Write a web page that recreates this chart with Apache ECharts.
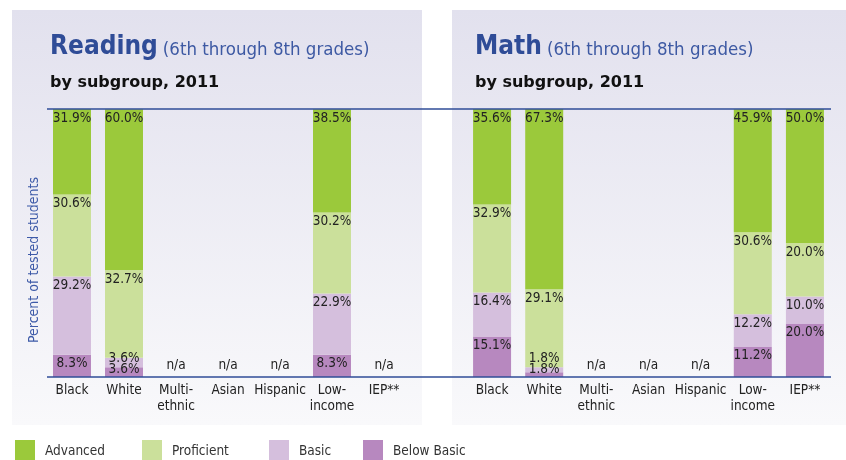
<!DOCTYPE html>
<html>
<head>
<meta charset="utf-8">
<script src="https://cdn.jsdelivr.net/npm/echarts@6/dist/echarts.min.js"></script>
<style>
  html, body { margin: 0; padding: 0; background: #fff; }
  #chart { width: 846px; height: 460px; }
</style>
</head>
<body>
<div id="chart"></div>
<script>
const categories = ['Black', 'White', 'Multi-\nethnic', 'Asian', 'Hispanic', 'Low-\nincome', 'IEP**']
const levels = ['Advanced', 'Proficient', 'Basic', 'Below Basic']

const readingBelowBasic = [8.3, 3.6, null, null, null, 8.3, null]
const readingBasic = [29.2, 3.6, null, null, null, 22.9, null]
const readingProficient = [30.6, 32.7, null, null, null, 30.2, null]
const readingAdvanced = [31.9, 60.0, null, null, null, 38.5, null]

const mathBelowBasic = [15.1, 1.8, null, null, null, 11.2, 20.0]
const mathBasic = [16.4, 1.8, null, null, null, 12.2, 10.0]
const mathProficient = [32.9, 29.1, null, null, null, 30.6, 20.0]
const mathAdvanced = [35.6, 67.3, null, null, null, 45.9, 50.0]

const colors = {
  'Advanced': '#9bc93b',
  'Proficient': '#cbe09b',
  'Basic': '#d5bfdd',
  'Below Basic': '#b788bf'
}

const FONT = '"DejaVu Sans Condensed", "DejaVu Sans", sans-serif'
const BLUE = '#2f4c97'
const PLOT_TOP = 109
const PLOT_H = 268
const PX = PLOT_H / 100

const chart = echarts.init(document.getElementById('chart'))

const pct = p => p.value == null ? '' : p.value.toFixed(1) + '%'

function buildSeries(idx, below, basic, prof, adv) {
  const stack = 's' + idx
  const base = (name, data) => ({
    name,
    type: 'bar',
    stack,
    xAxisIndex: idx,
    yAxisIndex: idx,
    barWidth: 38,
    itemStyle: { color: colors[name] },
    label: {
      show: true,
      position: 'insideTop',
      distance: 2,
      color: '#222',
      fontSize: 13.5,
      fontFamily: FONT,
      formatter: pct
    },
    data
  })
  // tiny segments: stack their labels at the foot of the bar
  const belowData = below.map(v => v != null && v < 5
    ? { value: v, label: { position: 'insideBottom', distance: 1 } } : v)
  const basicData = basic.map((v, i) => below[i] != null && below[i] < 5
    ? { value: v, label: { position: 'insideBottom', distance: 0, offset: [0, -12 + below[i] * PX] } } : v)
  const naData = adv.map(v => v == null ? 0 : null)
  return [
    base('Below Basic', belowData),
    base('Basic', basicData),
    base('Proficient', prof),
    base('Advanced', adv),
    {
      name: 'n/a',
      type: 'bar',
      stack,
      xAxisIndex: idx,
      yAxisIndex: idx,
      barWidth: 38,
      itemStyle: { color: 'transparent' },
      label: {
        show: true,
        position: 'top',
        distance: 5,
        color: '#222',
        fontSize: 13.5,
        fontFamily: FONT,
        formatter: 'n/a'
      },
      data: naData
    }
  ]
}

const xAxisBase = idx => ({
  type: 'category',
  gridIndex: idx,
  data: categories,
  axisLine: { show: false },
  axisTick: { show: false },
  axisLabel: {
    interval: 0,
    margin: 5,
    color: '#222',
    fontSize: 13.5,
    lineHeight: 16,
    fontFamily: FONT
  }
})

const yAxisBase = idx => ({
  type: 'value',
  gridIndex: idx,
  min: 0,
  max: 100,
  axisLine: { show: false },
  axisTick: { show: false },
  axisLabel: { show: false },
  splitLine: { show: false }
})

const titleRich = {
  a: { fontSize: 26, fontWeight: 'bold', color: BLUE, fontFamily: FONT },
  b: { fontSize: 18.5, fontWeight: 'normal', color: '#3d59a3', fontFamily: FONT, padding: [6, 0, 0, 0] }
}

const subStyle = { fontSize: 16, fontWeight: 'bold', color: '#111', fontFamily: '"DejaVu Sans", sans-serif' }

const legendItem = (name, left) => ({
  data: [{ name, icon: 'rect' }],
  left: left - 5,
  top: 435,
  itemWidth: 20,
  itemHeight: 22,
  selectedMode: false,
  textStyle: { fontSize: 13.5, color: '#333', fontFamily: FONT, padding: [0, 0, 0, 5] }
})

const panelFill = {
  type: 'linear', x: 0, y: 0, x2: 0, y2: 1,
  colorStops: [{ offset: 0, color: '#e2e1ee' }, { offset: 1, color: '#f9f9fb' }]
}

const option = {
  backgroundColor: '#fff',
  animation: false,
  graphic: [
    { type: 'rect', z: -10, shape: { x: 12, y: 10, width: 410, height: 415 }, style: { fill: panelFill } },
    { type: 'rect', z: -10, shape: { x: 452, y: 10, width: 400, height: 415 }, style: { fill: panelFill } },
    { type: 'line', z: 10, shape: { x1: 47, y1: PLOT_TOP, x2: 831, y2: PLOT_TOP }, style: { stroke: BLUE, lineWidth: 1.5 } },
    { type: 'line', z: 10, shape: { x1: 47, y1: PLOT_TOP + PLOT_H, x2: 831, y2: PLOT_TOP + PLOT_H }, style: { stroke: BLUE, lineWidth: 1.5 } }
  ],
  title: [
    { left: 45, top: 29, text: '{a|Reading} {b|(6th through 8th grades)}', textStyle: { rich: titleRich } },
    { left: 45, top: 70, text: 'by subgroup, 2011', textStyle: subStyle },
    { left: 470, top: 29, text: '{a|Math} {b|(6th through 8th grades)}', textStyle: { rich: titleRich } },
    { left: 470, top: 70, text: 'by subgroup, 2011', textStyle: subStyle }
  ],
  legend: [
    legendItem('Advanced', 15),
    legendItem('Proficient', 142),
    legendItem('Basic', 269),
    legendItem('Below Basic', 363)
  ],
  grid: [
    { left: 46, width: 364, top: PLOT_TOP, height: PLOT_H },
    { left: 466, width: 365, top: PLOT_TOP, height: PLOT_H }
  ],
  xAxis: [xAxisBase(0), xAxisBase(1)],
  yAxis: [
    Object.assign(yAxisBase(0), {
      name: 'Percent of tested students',
      nameLocation: 'middle',
      nameGap: 5,
      nameTextStyle: { color: '#3d5aa8', fontSize: 14, fontFamily: FONT, padding: [0, 34, 0, 0] }
    }),
    yAxisBase(1)
  ],
  series: [
    ...buildSeries(0, readingBelowBasic, readingBasic, readingProficient, readingAdvanced),
    ...buildSeries(1, mathBelowBasic, mathBasic, mathProficient, mathAdvanced)
  ]
}

chart.setOption(option)
window.addEventListener('resize', () => chart.resize())
</script>
</body>
</html>
